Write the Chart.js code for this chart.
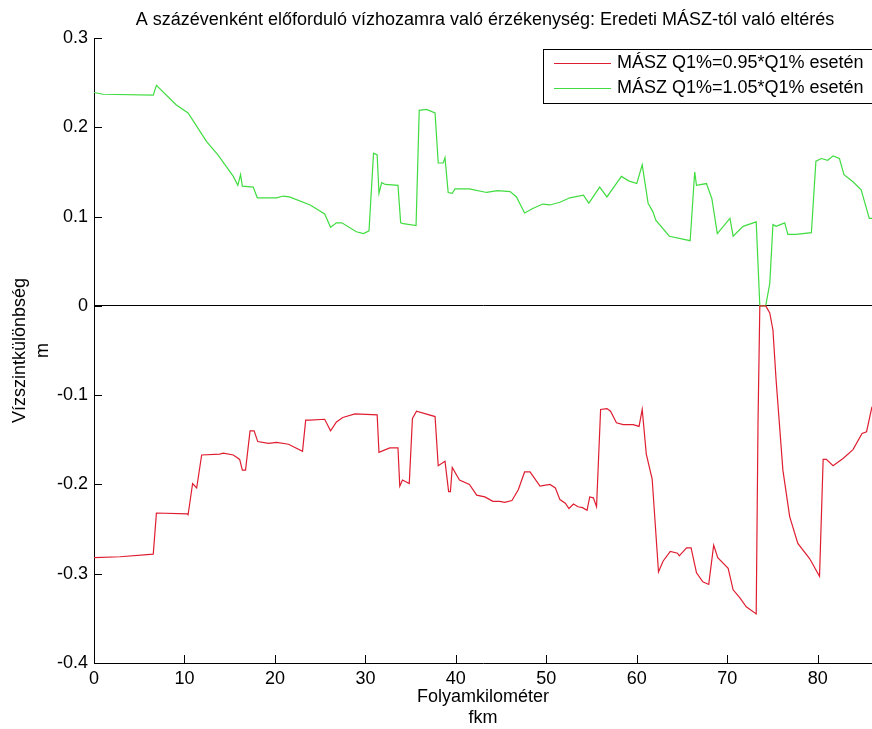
<!DOCTYPE html>
<html>
<head>
<meta charset="utf-8">
<title>Vízszintkülönbség</title>
<script src="https://cdn.jsdelivr.net/npm/chart.js@4/dist/chart.umd.min.js"></script>
<style>
  html, body { margin: 0; padding: 0; background: #fff; }
  canvas { display: block; }
</style>
</head>
<body>
<canvas id="c" width="872" height="729"></canvas>
<script>
// Folyamkilométer (fkm) and water-level difference (m) for each scenario
const redKm = [0, 2.9, 6.55, 6.9, 10.3, 10.4, 10.9, 11.35, 11.9, 13.9, 14.3, 15.4, 16.1, 16.4, 16.75, 17.25, 17.7, 18.1, 19.3, 20.2,
  21.5, 23.05, 23.4, 23.9, 25.5, 26.15, 26.8, 27.5, 28.85, 31.3, 31.5, 32.7, 33.6, 33.8, 34.1, 34.85, 35.2, 35.65, 37.7, 38.05,
  38.8, 39.2, 39.4, 39.6, 40.4, 41.5, 42.3, 43.2, 44.1, 44.85, 45.4, 46.2, 46.9, 47.6, 48.2, 49.3, 50.4, 51.0, 51.5, 52.1,
  52.5, 53.0, 53.5, 54.0, 54.5, 54.8, 55.2, 55.55, 56.0, 56.7, 57.1, 57.75, 58.5, 59.0, 59.6, 60.25, 60.6, 61.05, 61.7, 62.4,
  62.9, 63.7, 64.5, 64.7, 65.5, 66.0, 66.6, 67.3, 67.95, 68.5, 68.95, 70.1, 70.65, 71.4, 72.1, 73.2, 73.4, 73.6, 74.25, 74.7,
  75.05, 75.4, 76.15, 76.9, 77.8, 79.1, 80.2, 80.6, 80.95, 81.7, 82.8, 83.9, 84.9, 85.4, 86.0];
const redDiff = [-0.282, -0.281, -0.278, -0.232, -0.233, -0.234, -0.199, -0.204, -0.167, -0.166, -0.165, -0.167, -0.172, -0.184, -0.184, -0.140, -0.140, -0.152, -0.154, -0.153,
  -0.155, -0.163, -0.128, -0.128, -0.127, -0.140, -0.130, -0.125, -0.121, -0.122, -0.164, -0.159, -0.159, -0.202, -0.195, -0.199, -0.126, -0.118, -0.124, -0.179,
  -0.174, -0.208, -0.208, -0.181, -0.195, -0.200, -0.212, -0.214, -0.219, -0.219, -0.220, -0.218, -0.206, -0.186, -0.186, -0.202, -0.200, -0.204, -0.217, -0.221,
  -0.227, -0.222, -0.225, -0.226, -0.229, -0.214, -0.215, -0.225, -0.116, -0.115, -0.118, -0.131, -0.133, -0.133, -0.133, -0.135, -0.116, -0.166, -0.194, -0.298,
  -0.286, -0.275, -0.277, -0.280, -0.271, -0.271, -0.299, -0.309, -0.312, -0.268, -0.282, -0.294, -0.318, -0.327, -0.337, -0.345, -0.131, 0.0, 0.0, -0.008,
  -0.027, -0.083, -0.184, -0.236, -0.266, -0.283, -0.303, -0.172, -0.172, -0.179, -0.171, -0.161, -0.143, -0.141, -0.113];

const greenKm = [0, 1.0, 6.55, 6.9, 9.1, 10.4, 12.45, 13.7, 15.4, 15.9, 16.2, 16.4, 17.6, 18.05, 20.2, 20.9, 21.6, 23.9, 25.5, 26.15,
  26.8, 27.4, 29.0, 29.8, 30.4, 30.9, 31.3, 31.5, 31.8, 32.2, 33.6, 33.9, 34.2, 35.6, 35.95, 36.75, 37.7, 38.05, 38.6, 38.8,
  39.15, 39.6, 39.9, 41.5, 43.4, 44.6, 46.0, 46.7, 47.6, 48.5, 49.6, 50.4, 51.5, 52.6, 54.1, 54.7, 55.9, 56.7, 58.3, 59.1,
  60.0, 60.6, 61.25, 61.8, 62.1, 63.6, 65.9, 66.4, 66.6, 67.7, 68.3, 68.9, 70.3, 70.65, 71.75, 73.2, 73.6, 74.25, 74.7, 75.05,
  75.4, 76.35, 76.7, 77.6, 79.3, 79.8, 80.4, 81.1, 81.7, 82.4, 82.9, 83.9, 84.8, 85.7, 86.0];
const greenDiff = [0.239, 0.237, 0.236, 0.247, 0.225, 0.216, 0.184, 0.169, 0.145, 0.135, 0.147, 0.134, 0.133, 0.121, 0.121, 0.123, 0.122, 0.113, 0.103, 0.088,
  0.093, 0.093, 0.083, 0.081, 0.084, 0.171, 0.169, 0.126, 0.138, 0.136, 0.135, 0.093, 0.092, 0.090, 0.219, 0.220, 0.216, 0.160, 0.160, 0.166,
  0.127, 0.126, 0.131, 0.131, 0.127, 0.129, 0.128, 0.122, 0.104, 0.109, 0.114, 0.113, 0.116, 0.121, 0.124, 0.115, 0.133, 0.122, 0.145, 0.140,
  0.137, 0.158, 0.115, 0.105, 0.096, 0.078, 0.073, 0.150, 0.135, 0.137, 0.120, 0.081, 0.098, 0.078, 0.089, 0.094, 0.0, 0.0, 0.025, 0.091,
  0.089, 0.093, 0.080, 0.080, 0.082, 0.162, 0.165, 0.163, 0.168, 0.165, 0.147, 0.139, 0.130, 0.098, 0.098];

const seriesLabels = ['MÁSZ Q1%=0.95*Q1% esetén', 'MÁSZ Q1%=1.05*Q1% esetén'];
const chartTitle = 'A százévenként előforduló vízhozamra való érzékenység: Eredeti MÁSZ-tól való eltérés';
const yTitle = ['Vízszintkülönbség', 'm'];
const xTitle = ['Folyamkilométer', 'fkm'];
const yTicks = [-0.4, -0.3, -0.2, -0.1, 0, 0.1, 0.2, 0.3];

const FONT = '"Liberation Sans", Arial, Helvetica, sans-serif';
const RED = 'rgb(222, 30, 48)';
const GREEN = 'rgb(64, 220, 64)';

const toPoints = (xs, ys) => xs.map((x, i) => ({ x: x, y: ys[i] }));

// inward tick marks on the left and bottom axes
const inwardTicks = {
  id: 'inwardTicks',
  afterDatasetsDraw(chart) {
    const { ctx, chartArea, scales } = chart;
    const len = 8;
    ctx.save();
    ctx.strokeStyle = '#000';
    ctx.lineWidth = 1;
    ctx.beginPath();
    scales.x.ticks.forEach(t => {
      const px = Math.round(scales.x.getPixelForValue(t.value)) + 0.5;
      ctx.moveTo(px, chartArea.bottom);
      ctx.lineTo(px, chartArea.bottom - len);
    });
    scales.y.ticks.forEach(t => {
      const py = Math.round(scales.y.getPixelForValue(t.value)) + 0.5;
      ctx.moveTo(chartArea.left, py);
      ctx.lineTo(chartArea.left + len, py);
    });
    ctx.stroke();
    ctx.restore();
  }
};

// title centred over the plotting area
const plotTitle = {
  id: 'plotTitle',
  afterDraw(chart) {
    const { ctx, chartArea } = chart;
    ctx.save();
    ctx.font = '18px ' + FONT;
    ctx.fillStyle = '#000';
    ctx.textAlign = 'center';
    ctx.textBaseline = 'middle';
    ctx.fillText(chartTitle, (chartArea.left + chartArea.right) / 2 + 2, 20);
    ctx.restore();
  }
};

// boxed legend in the upper right corner
const boxLegend = {
  id: 'boxLegend',
  afterDraw(chart) {
    const { ctx } = chart;
    const x0 = 543.5, y0 = 49.5, w = 340, h = 54;
    ctx.save();
    ctx.fillStyle = '#fff';
    ctx.fillRect(x0, y0, w, h);
    ctx.strokeStyle = '#000';
    ctx.lineWidth = 1;
    ctx.strokeRect(x0, y0, w, h);
    ctx.font = '18px ' + FONT;
    ctx.textBaseline = 'middle';
    ctx.textAlign = 'left';
    chart.data.datasets.forEach((ds, i) => {
      const y = 63.5 + i * 25;
      ctx.strokeStyle = ds.borderColor;
      ctx.beginPath();
      ctx.moveTo(554, y);
      ctx.lineTo(611, y);
      ctx.stroke();
      ctx.fillStyle = '#000';
      ctx.fillText(ds.label, 617, y);
    });
    ctx.restore();
  }
};

new Chart(document.getElementById('c'), {
  type: 'line',
  data: {
    datasets: [
      { label: seriesLabels[0], data: toPoints(redKm, redDiff), borderColor: RED, borderWidth: 1.2, pointRadius: 0, tension: 0, fill: false },
      { label: seriesLabels[1], data: toPoints(greenKm, greenDiff), borderColor: GREEN, borderWidth: 1.2, pointRadius: 0, tension: 0, fill: false }
    ]
  },
  options: {
    responsive: false,
    animation: false,
    devicePixelRatio: 1,
    layout: { padding: { top: 38, right: 0, bottom: 0, left: 0 } },
    plugins: { legend: { display: false }, title: { display: false }, tooltip: { enabled: false } },
    scales: {
      x: {
        type: 'linear',
        min: 0,
        max: 86,
        afterFit(scale) { scale.height = 66; },
        border: { display: true, color: '#000', width: 1 },
        grid: { display: false, drawTicks: false },
        ticks: { stepSize: 10, includeBounds: false, padding: 5, color: '#000', maxRotation: 0, font: { family: FONT, size: 18 } },
        title: { display: true, text: xTitle, color: '#000', font: { family: FONT, size: 18, lineHeight: 1.17 }, padding: { top: 0, bottom: 0 } }
      },
      y: {
        type: 'linear',
        min: -0.4,
        max: 0.3,
        afterFit(scale) { scale.width = 94; },
        afterBuildTicks(scale) { scale.ticks = yTicks.map(v => ({ value: v })); },
        border: { display: true, color: '#000', width: 1 },
        grid: {
          drawTicks: false,
          lineWidth: 1,
          color: ctx => (ctx.tick && ctx.tick.value === 0 ? '#000' : 'rgba(0,0,0,0)')
        },
        ticks: { padding: 6, color: '#000', font: { family: FONT, size: 18 }, callback: v => String(Math.round(v * 10) / 10) },
        title: { display: true, text: yTitle, color: '#000', font: { family: FONT, size: 18, lineHeight: 1.25 }, padding: { top: 9, bottom: 0 } }
      }
    }
  },
  plugins: [inwardTicks, plotTitle, boxLegend]
});
</script>
</body>
</html>
